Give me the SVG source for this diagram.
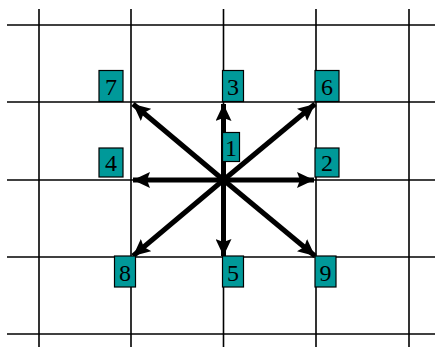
<svg xmlns="http://www.w3.org/2000/svg" width="435" height="347" viewBox="0 0 435 347">
<style>
.grid line{stroke:#000;stroke-width:1.6}
.arr line{stroke:#000;stroke-width:5}
.box{fill:#009999;stroke:#000;stroke-width:1.2}
.lbl{font-family:"Liberation Serif","Times New Roman",serif;font-size:24px;fill:#000;text-anchor:middle}
</style>
<defs>
<marker id="ah" markerUnits="userSpaceOnUse" markerWidth="17" markerHeight="16" viewBox="0 0 17 16" refX="17" refY="8" orient="auto">
<path d="M0,0 L17,8 L0,16 L3,8 z" fill="#000"/>
</marker>
</defs>
<rect width="435" height="347" fill="#fff"/>
<g class="grid">
<line x1="7" y1="25" x2="435" y2="25"/>
<line x1="7" y1="102" x2="435" y2="102"/>
<line x1="7" y1="180" x2="435" y2="180"/>
<line x1="7" y1="257" x2="435" y2="257"/>
<line x1="7" y1="334" x2="435" y2="334"/>
<line x1="39" y1="9" x2="39" y2="347"/>
<line x1="131" y1="9" x2="131" y2="347"/>
<line x1="223.5" y1="9" x2="223.5" y2="347"/>
<line x1="316" y1="9" x2="316" y2="347"/>
<line x1="409" y1="9" x2="409" y2="347"/>
</g>
<g id="connectors" class="arr">
<line x1="223.5" y1="180" x2="223.5" y2="104" marker-end="url(#ah)"/>
<line x1="223.5" y1="180" x2="223.5" y2="256" marker-end="url(#ah)"/>
<line x1="223.5" y1="180" x2="133" y2="180" marker-end="url(#ah)"/>
<line x1="223.5" y1="180" x2="314" y2="180" marker-end="url(#ah)"/>
<line x1="223.5" y1="180" x2="133" y2="104" marker-end="url(#ah)"/>
<line x1="223.5" y1="180" x2="315" y2="104" marker-end="url(#ah)"/>
<line x1="223.5" y1="180" x2="133" y2="256" marker-end="url(#ah)"/>
<line x1="223.5" y1="180" x2="315" y2="256" marker-end="url(#ah)"/>
</g>
<g id="n1"><rect class="box" x="222.5" y="132.5" width="17" height="29"/><text class="lbl" x="231" y="156">1</text></g>
<g id="n2"><rect class="box" x="315" y="148" width="24" height="29"/><text class="lbl" x="327" y="171">2</text></g>
<g id="n3"><rect class="box" x="222.5" y="70.5" width="21" height="31"/><text class="lbl" x="233" y="95">3</text></g>
<g id="n4"><rect class="box" x="99" y="148" width="24" height="29"/><text class="lbl" x="111" y="171">4</text></g>
<g id="n5"><rect class="box" x="222.5" y="256" width="21" height="31"/><text class="lbl" x="233" y="281">5</text></g>
<g id="n6"><rect class="box" x="315" y="70.5" width="24" height="31"/><text class="lbl" x="327" y="95">6</text></g>
<g id="n7"><rect class="box" x="99" y="70.5" width="24" height="31"/><text class="lbl" x="111" y="95">7</text></g>
<g id="n8"><rect class="box" x="114.5" y="256" width="21" height="31"/><text class="lbl" x="125" y="281">8</text></g>
<g id="n9"><rect class="box" x="315" y="256" width="21" height="31"/><text class="lbl" x="325.5" y="281">9</text></g>
</svg>
